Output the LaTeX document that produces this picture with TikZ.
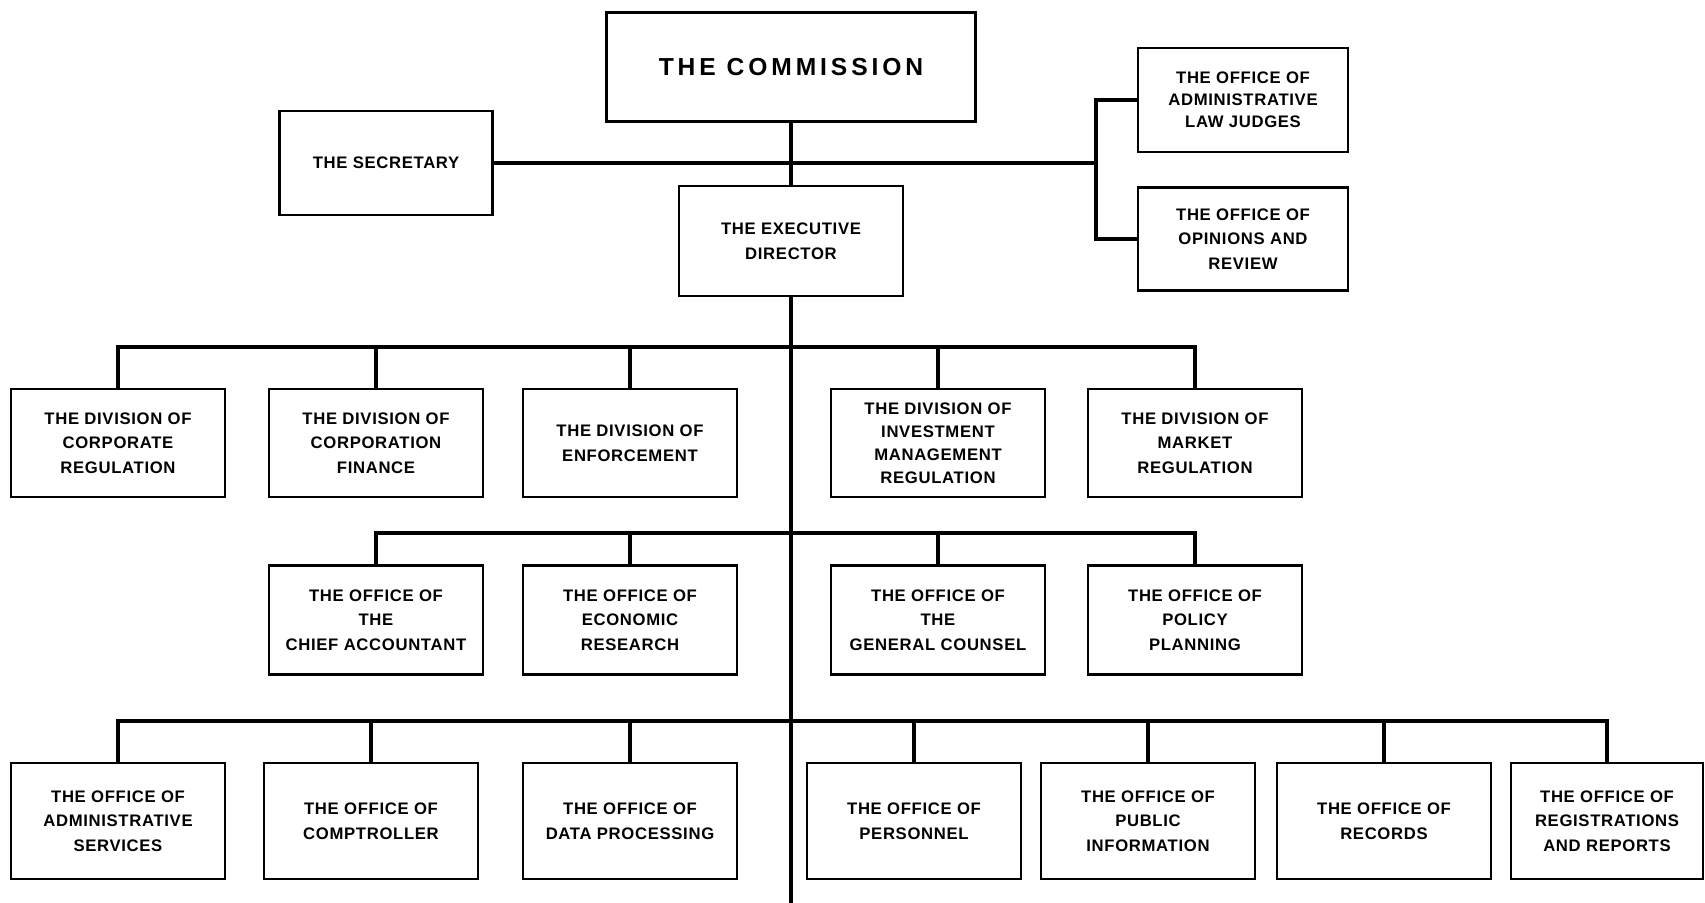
\documentclass[tikz,border=0pt]{standalone}
\usepackage{fontspec}
\newfontfamily\boxfont[LetterSpace=4]{Liberation Sans}
\newfontfamily\headfont[LetterSpace=16]{Liberation Sans}

\tikzset{
unit/.style={draw, line width=1.3pt, align=center, inner sep=0pt, minimum width=4.28cm, minimum height=2.16cm, font={\boxfont\bfseries\fontsize{9.5}{14}\selectfont}},
bus/.style={line width=2.6pt},
}

\begin{document}
\begin{tikzpicture}[x=0.02cm, y=-0.02cm]
\useasboundingbox (0,0) rectangle (1705,903);
\node[unit, minimum width=7.38cm, minimum height=2.18cm, font={\headfont\bfseries\fontsize{14}{17}\selectfont}] (com) at (791,67) {THE COMMISSION};
\node[unit, minimum width=4.26cm, minimum height=2.08cm] (sec) at (386,163) {THE SECRETARY};
\node[unit, minimum width=4.48cm, minimum height=2.2cm] (ed) at (791,241) {THE EXECUTIVE\\DIRECTOR};
\node[unit, minimum width=4.2cm, minimum height=2.08cm, font={\boxfont\bfseries\fontsize{9.5}{12.5}\selectfont}] (alj) at (1243,100) {THE OFFICE OF\\ADMINISTRATIVE\\LAW JUDGES};
\node[unit, minimum width=4.2cm, minimum height=2.06cm] (opr) at (1243,239) {THE OFFICE OF\\OPINIONS AND\\REVIEW};
\coordinate (br) at (1096,163);
\coordinate (end) at (791,903);

\node[unit] (cr) at (118,443) {THE DIVISION OF\\CORPORATE\\REGULATION};
\node[unit] (cf) at (376,443) {THE DIVISION OF\\CORPORATION\\FINANCE};
\node[unit] (en) at (630,443) {THE DIVISION OF\\ENFORCEMENT};
\node[unit, font={\boxfont\bfseries\fontsize{9.5}{13}\selectfont}] (im) at (938,443) {THE DIVISION OF\\INVESTMENT\\MANAGEMENT\\REGULATION};
\node[unit] (mr) at (1195,443) {THE DIVISION OF\\MARKET\\REGULATION};

\node[unit, minimum height=2.18cm] (ca) at (376,620) {THE OFFICE OF\\THE\\CHIEF ACCOUNTANT};
\node[unit, minimum height=2.18cm] (er) at (630,620) {THE OFFICE OF\\ECONOMIC\\RESEARCH};
\node[unit, minimum height=2.18cm] (gc) at (938,620) {THE OFFICE OF\\THE\\GENERAL COUNSEL};
\node[unit, minimum height=2.18cm] (pp) at (1195,620) {THE OFFICE OF\\POLICY\\PLANNING};

\node[unit, minimum height=2.32cm] (as) at (118,821) {THE OFFICE OF\\ADMINISTRATIVE\\SERVICES};
\node[unit, minimum height=2.32cm] (co) at (371,821) {THE OFFICE OF\\COMPTROLLER};
\node[unit, minimum height=2.32cm] (dp) at (630,821) {THE OFFICE OF\\DATA PROCESSING};
\node[unit, minimum height=2.32cm] (pe) at (914,821) {THE OFFICE OF\\PERSONNEL};
\node[unit, minimum height=2.32cm] (pi) at (1148,821) {THE OFFICE OF\\PUBLIC\\INFORMATION};
\node[unit, minimum height=2.32cm] (re) at (1384,821) {THE OFFICE OF\\RECORDS};
\node[unit, minimum height=2.32cm, minimum width=3.84cm] (rr) at (1607,821) {THE OFFICE OF\\REGISTRATIONS\\AND REPORTS};

\coordinate (b1) at (791,347);
\coordinate (b2) at (791,533);
\coordinate (b3) at (791,721);

\draw[bus] (com.south) -- (ed.north);
\draw[bus] (sec.east) -- (br);
\draw[bus] (alj.west) -| (br) |- (opr.west);
\draw[bus] (ed.south) -- (end);
\draw[bus] (cr.north) -- (cr.north |- b1) -- (mr.north |- b1) -- (mr.north);
\foreach \n in {cf,en,im} \draw[bus] (\n.north) -- (\n.north |- b1);
\draw[bus] (ca.north) -- (ca.north |- b2) -- (pp.north |- b2) -- (pp.north);
\foreach \n in {er,gc} \draw[bus] (\n.north) -- (\n.north |- b2);
\draw[bus] (as.north) -- (as.north |- b3) -- (rr.north |- b3) -- (rr.north);
\foreach \n in {co,dp,pe,pi,re} \draw[bus] (\n.north) -- (\n.north |- b3);
\end{tikzpicture}
\end{document}
